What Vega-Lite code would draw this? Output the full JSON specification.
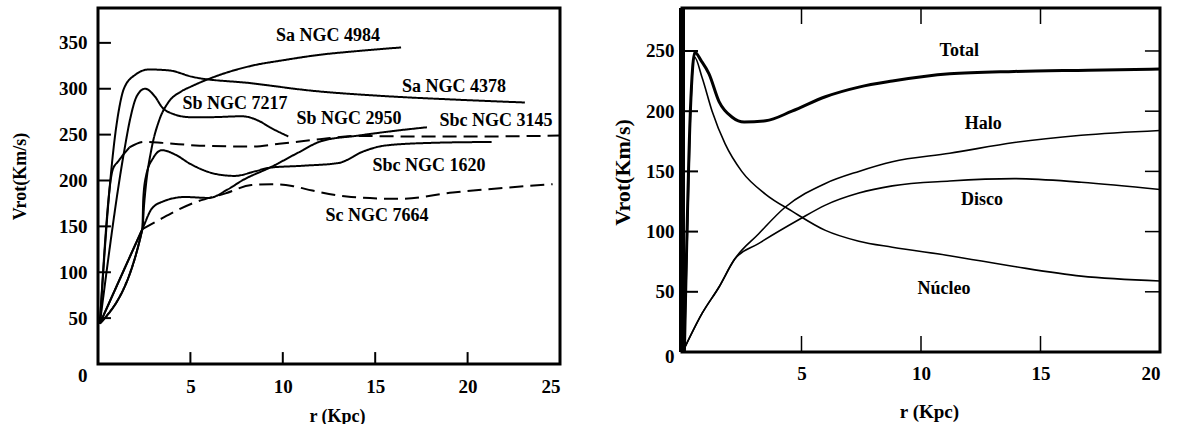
{
  "$schema": "https://vega.github.io/schema/vega-lite/v6.json",
  "background": "white",
  "padding": {"left": 9, "top": 3, "right": 0, "bottom": 0},
  "spacing": 122,
  "bounds": "flush",
  "config": {
    "view": {"stroke": "black", "strokeWidth": 3},
    "font": "Liberation Serif",
    "axis": {
      "labelFont": "Liberation Serif", "labelFontWeight": "bold", "labelFontSize": 19, "labelColor": "black",
      "titleFont": "Liberation Serif", "titleFontWeight": "bold", "titleFontSize": 18, "titleColor": "black",
      "grid": false, "domain": false, "ticks": false, "tickSize": 0
    }
  },
  "datasets": {
    "galaxias": [
      {"g": "Sa NGC 4378", "seg": 1, "r": 0.1, "v": 44},
      {"g": "Sa NGC 4378", "seg": 1, "r": 0.6, "v": 185},
      {"g": "Sa NGC 4378", "seg": 1, "r": 0.87, "v": 240},
      {"g": "Sa NGC 4378", "seg": 1, "r": 1.14, "v": 278},
      {"g": "Sa NGC 4378", "seg": 1, "r": 1.4, "v": 300},
      {"g": "Sa NGC 4378", "seg": 1, "r": 2.0, "v": 315},
      {"g": "Sa NGC 4378", "seg": 1, "r": 2.76, "v": 321},
      {"g": "Sa NGC 4378", "seg": 1, "r": 3.84, "v": 320},
      {"g": "Sa NGC 4378", "seg": 1, "r": 5.1, "v": 313},
      {"g": "Sa NGC 4378", "seg": 1, "r": 8.3, "v": 306},
      {"g": "Sa NGC 4378", "seg": 1, "r": 11.5, "v": 298},
      {"g": "Sa NGC 4378", "seg": 1, "r": 15.5, "v": 292},
      {"g": "Sa NGC 4378", "seg": 1, "r": 19.5, "v": 288},
      {"g": "Sa NGC 4378", "seg": 1, "r": 23.1, "v": 285},

      {"g": "Sa NGC 4984", "seg": 1, "r": 0.1, "v": 44},
      {"g": "Sa NGC 4984", "seg": 1, "r": 2.4, "v": 147},
      {"g": "Sa NGC 4984", "seg": 1, "r": 2.5, "v": 175},
      {"g": "Sa NGC 4984", "seg": 1, "r": 2.6, "v": 196},
      {"g": "Sa NGC 4984", "seg": 1, "r": 2.9, "v": 235},
      {"g": "Sa NGC 4984", "seg": 1, "r": 3.3, "v": 265},
      {"g": "Sa NGC 4984", "seg": 1, "r": 3.8, "v": 285},
      {"g": "Sa NGC 4984", "seg": 1, "r": 4.5, "v": 297},
      {"g": "Sa NGC 4984", "seg": 1, "r": 5.1, "v": 303},
      {"g": "Sa NGC 4984", "seg": 1, "r": 6.3, "v": 313},
      {"g": "Sa NGC 4984", "seg": 1, "r": 8.3, "v": 325},
      {"g": "Sa NGC 4984", "seg": 1, "r": 10, "v": 331},
      {"g": "Sa NGC 4984", "seg": 1, "r": 12, "v": 337},
      {"g": "Sa NGC 4984", "seg": 1, "r": 14, "v": 341},
      {"g": "Sa NGC 4984", "seg": 1, "r": 16.4, "v": 345},

      {"g": "Sb NGC 7217", "seg": 1, "r": 0.1, "v": 44},
      {"g": "Sb NGC 7217", "seg": 1, "r": 1.4, "v": 230},
      {"g": "Sb NGC 7217", "seg": 1, "r": 1.75, "v": 268},
      {"g": "Sb NGC 7217", "seg": 1, "r": 2.1, "v": 292},
      {"g": "Sb NGC 7217", "seg": 1, "r": 2.54, "v": 300},
      {"g": "Sb NGC 7217", "seg": 1, "r": 3.1, "v": 291},
      {"g": "Sb NGC 7217", "seg": 1, "r": 3.46, "v": 280},
      {"g": "Sb NGC 7217", "seg": 1, "r": 4.0, "v": 273},
      {"g": "Sb NGC 7217", "seg": 1, "r": 5.0, "v": 269},
      {"g": "Sb NGC 7217", "seg": 1, "r": 6.0, "v": 269},
      {"g": "Sb NGC 7217", "seg": 1, "r": 7.8, "v": 270},
      {"g": "Sb NGC 7217", "seg": 1, "r": 8.7, "v": 265},
      {"g": "Sb NGC 7217", "seg": 1, "r": 9.3, "v": 258},
      {"g": "Sb NGC 7217", "seg": 1, "r": 10.3, "v": 248},

      {"g": "Sb NGC 2950", "seg": 1, "r": 0.1, "v": 44},
      {"g": "Sb NGC 2950", "seg": 1, "r": 2.4, "v": 147},
      {"g": "Sb NGC 2950", "seg": 1, "r": 2.9, "v": 169},
      {"g": "Sb NGC 2950", "seg": 1, "r": 3.5, "v": 177},
      {"g": "Sb NGC 2950", "seg": 1, "r": 4.7, "v": 182},
      {"g": "Sb NGC 2950", "seg": 1, "r": 6.0, "v": 181},
      {"g": "Sb NGC 2950", "seg": 1, "r": 7.0, "v": 190},
      {"g": "Sb NGC 2950", "seg": 1, "r": 7.8, "v": 200},
      {"g": "Sb NGC 2950", "seg": 1, "r": 9.4, "v": 215},
      {"g": "Sb NGC 2950", "seg": 1, "r": 10.8, "v": 230},
      {"g": "Sb NGC 2950", "seg": 1, "r": 12.1, "v": 243},
      {"g": "Sb NGC 2950", "seg": 1, "r": 14.1, "v": 249},
      {"g": "Sb NGC 2950", "seg": 1, "r": 16, "v": 254},
      {"g": "Sb NGC 2950", "seg": 1, "r": 17.8, "v": 258},

      {"g": "Sbc NGC 1620", "seg": 1, "r": 0.1, "v": 44},
      {"g": "Sbc NGC 1620", "seg": 1, "r": 2.4, "v": 147},
      {"g": "Sbc NGC 1620", "seg": 1, "r": 2.45, "v": 180},
      {"g": "Sbc NGC 1620", "seg": 1, "r": 2.6, "v": 205},
      {"g": "Sbc NGC 1620", "seg": 1, "r": 3.0, "v": 225},
      {"g": "Sbc NGC 1620", "seg": 1, "r": 3.46, "v": 233},
      {"g": "Sbc NGC 1620", "seg": 1, "r": 4.2, "v": 228},
      {"g": "Sbc NGC 1620", "seg": 1, "r": 5.0, "v": 218},
      {"g": "Sbc NGC 1620", "seg": 1, "r": 6.4, "v": 207},
      {"g": "Sbc NGC 1620", "seg": 1, "r": 7.4, "v": 205},
      {"g": "Sbc NGC 1620", "seg": 1, "r": 8.5, "v": 210},
      {"g": "Sbc NGC 1620", "seg": 1, "r": 9.3, "v": 214},
      {"g": "Sbc NGC 1620", "seg": 1, "r": 11, "v": 216},
      {"g": "Sbc NGC 1620", "seg": 1, "r": 13, "v": 219},
      {"g": "Sbc NGC 1620", "seg": 1, "r": 14.4, "v": 232},
      {"g": "Sbc NGC 1620", "seg": 1, "r": 15.5, "v": 238},
      {"g": "Sbc NGC 1620", "seg": 1, "r": 18, "v": 241},
      {"g": "Sbc NGC 1620", "seg": 1, "r": 21.3, "v": 242},

      {"g": "Sbc NGC 3145", "seg": 1, "r": 0.1, "v": 44},
      {"g": "Sbc NGC 3145", "seg": 1, "r": 0.8, "v": 212},
      {"g": "Sbc NGC 3145", "seg": 1, "r": 1.1, "v": 221},
      {"g": "Sbc NGC 3145", "seg": 1, "r": 1.7, "v": 236},
      {"g": "Sbc NGC 3145", "seg": 2, "r": 1.7, "v": 236},
      {"g": "Sbc NGC 3145", "seg": 2, "r": 2.5, "v": 242},
      {"g": "Sbc NGC 3145", "seg": 2, "r": 3.5, "v": 241},
      {"g": "Sbc NGC 3145", "seg": 2, "r": 5.5, "v": 238},
      {"g": "Sbc NGC 3145", "seg": 2, "r": 8.3, "v": 237},
      {"g": "Sbc NGC 3145", "seg": 2, "r": 9.8, "v": 240},
      {"g": "Sbc NGC 3145", "seg": 2, "r": 12, "v": 245},
      {"g": "Sbc NGC 3145", "seg": 2, "r": 14, "v": 248.5},
      {"g": "Sbc NGC 3145", "seg": 2, "r": 17, "v": 248},
      {"g": "Sbc NGC 3145", "seg": 2, "r": 21, "v": 248},
      {"g": "Sbc NGC 3145", "seg": 2, "r": 25, "v": 249},

      {"g": "Sc NGC 7664", "seg": 1, "r": 0.1, "v": 44},
      {"g": "Sc NGC 7664", "seg": 1, "r": 2.4, "v": 147},
      {"g": "Sc NGC 7664", "seg": 2, "r": 2.4, "v": 147},
      {"g": "Sc NGC 7664", "seg": 2, "r": 3.3, "v": 157},
      {"g": "Sc NGC 7664", "seg": 2, "r": 5.1, "v": 175},
      {"g": "Sc NGC 7664", "seg": 2, "r": 6.9, "v": 186},
      {"g": "Sc NGC 7664", "seg": 2, "r": 8.3, "v": 195},
      {"g": "Sc NGC 7664", "seg": 2, "r": 9.4, "v": 196},
      {"g": "Sc NGC 7664", "seg": 2, "r": 10.5, "v": 194},
      {"g": "Sc NGC 7664", "seg": 2, "r": 11.6, "v": 189},
      {"g": "Sc NGC 7664", "seg": 2, "r": 13.7, "v": 182},
      {"g": "Sc NGC 7664", "seg": 2, "r": 16.4, "v": 180},
      {"g": "Sc NGC 7664", "seg": 2, "r": 19.2, "v": 187},
      {"g": "Sc NGC 7664", "seg": 2, "r": 22, "v": 192},
      {"g": "Sc NGC 7664", "seg": 2, "r": 24.6, "v": 196}
    ],
    "etiquetas": [
      {"label": "Sa NGC 4984", "r": 12.45, "v": 358},
      {"label": "Sa NGC 4378", "r": 19.26, "v": 302},
      {"label": "Sb NGC 7217", "r": 7.41, "v": 283.5},
      {"label": "Sb NGC 2950", "r": 13.58, "v": 267},
      {"label": "Sbc NGC 3145", "r": 21.54, "v": 265},
      {"label": "Sbc NGC 1620", "r": 17.91, "v": 216},
      {"label": "Sc NGC 7664", "r": 15.1, "v": 161}
    ],
    "componentes": [
      {"c": "Total", "r": 0.1, "v": 0},
      {"c": "Total", "r": 0.35, "v": 200},
      {"c": "Total", "r": 0.54, "v": 249},
      {"c": "Total", "r": 0.8, "v": 242},
      {"c": "Total", "r": 1.13, "v": 231},
      {"c": "Total", "r": 1.55, "v": 208},
      {"c": "Total", "r": 2.1, "v": 195},
      {"c": "Total", "r": 2.6, "v": 191},
      {"c": "Total", "r": 3.5, "v": 192},
      {"c": "Total", "r": 4.6, "v": 200},
      {"c": "Total", "r": 6.0, "v": 212},
      {"c": "Total", "r": 7.4, "v": 220},
      {"c": "Total", "r": 8.8, "v": 225},
      {"c": "Total", "r": 11.2, "v": 231},
      {"c": "Total", "r": 13.9, "v": 233},
      {"c": "Total", "r": 17, "v": 234},
      {"c": "Total", "r": 20, "v": 235},

      {"c": "Núcleo", "r": 0.1, "v": 0},
      {"c": "Núcleo", "r": 0.35, "v": 195},
      {"c": "Núcleo", "r": 0.52, "v": 245},
      {"c": "Núcleo", "r": 0.84, "v": 228},
      {"c": "Núcleo", "r": 1.26, "v": 200},
      {"c": "Núcleo", "r": 1.8, "v": 173},
      {"c": "Núcleo", "r": 2.5, "v": 150},
      {"c": "Núcleo", "r": 3.5, "v": 131},
      {"c": "Núcleo", "r": 4.6, "v": 117},
      {"c": "Núcleo", "r": 6.0, "v": 101},
      {"c": "Núcleo", "r": 7.4, "v": 92},
      {"c": "Núcleo", "r": 8.8, "v": 87},
      {"c": "Núcleo", "r": 11.2, "v": 80},
      {"c": "Núcleo", "r": 13.9, "v": 71},
      {"c": "Núcleo", "r": 16.7, "v": 63},
      {"c": "Núcleo", "r": 20, "v": 59},

      {"c": "Halo", "r": 0.1, "v": 3},
      {"c": "Halo", "r": 0.84, "v": 32},
      {"c": "Halo", "r": 1.55, "v": 54},
      {"c": "Halo", "r": 2.2, "v": 77},
      {"c": "Halo", "r": 3.2, "v": 98},
      {"c": "Halo", "r": 4.3, "v": 120},
      {"c": "Halo", "r": 6.0, "v": 140},
      {"c": "Halo", "r": 7.4, "v": 150},
      {"c": "Halo", "r": 8.8, "v": 158},
      {"c": "Halo", "r": 11.2, "v": 165},
      {"c": "Halo", "r": 13.9, "v": 174},
      {"c": "Halo", "r": 16.7, "v": 180},
      {"c": "Halo", "r": 20, "v": 184},

      {"c": "Disco", "r": 0.1, "v": 3},
      {"c": "Disco", "r": 0.84, "v": 32},
      {"c": "Disco", "r": 1.55, "v": 54},
      {"c": "Disco", "r": 2.2, "v": 77},
      {"c": "Disco", "r": 3.2, "v": 90},
      {"c": "Disco", "r": 4.9, "v": 110},
      {"c": "Disco", "r": 6.0, "v": 122},
      {"c": "Disco", "r": 7.4, "v": 132},
      {"c": "Disco", "r": 8.8, "v": 138},
      {"c": "Disco", "r": 11.2, "v": 142},
      {"c": "Disco", "r": 13.9, "v": 144},
      {"c": "Disco", "r": 16.7, "v": 141},
      {"c": "Disco", "r": 20, "v": 135}
    ],
    "nombres": [
      {"label": "Total", "r": 11.6, "v": 250},
      {"label": "Halo", "r": 12.6, "v": 189},
      {"label": "Disco", "r": 12.55, "v": 126},
      {"label": "Núcleo", "r": 10.96, "v": 52}
    ]
  },
  "hconcat": [
    {
      "width": 462,
      "height": 356,
      "resolve": {"axis": {"x": "independent", "y": "independent"}},
      "layer": [
        {
          "data": {"name": "galaxias"},
          "mark": {"type": "line", "color": "black", "strokeWidth": 2, "interpolate": "monotone"},
          "encoding": {
            "x": {
              "field": "r", "type": "quantitative",
              "scale": {"domain": [0, 25], "nice": false, "zero": false},
              "axis": {"orient": "bottom", "values": [5, 10, 15, 20, 25], "labelPadding": 13, "title": "r (Kpc)", "titleX": 239, "titleY": 52, "titleBaseline": "middle", "titleAlign": "center"}
            },
            "y": {
              "field": "v", "type": "quantitative",
              "scale": {"domain": [0, 388], "nice": false},
              "axis": {"orient": "left", "values": [0, 50, 100, 150, 200, 250, 300, 350], "labelPadding": 11, "labelOffset": {"condition": {"test": "datum.value === 0", "value": 11}, "value": 0}, "title": "Vrot(Km/s)", "titleX": -78, "titleY": 168, "titleAngle": 270, "titleBaseline": "middle", "titleAlign": "center"}
            },
            "detail": [{"field": "g"}, {"field": "seg"}],
            "strokeDash": {"condition": {"test": "datum.seg === 2", "value": [14, 7]}, "value": [1, 0]}
          }
        },
        {
          "data": {"name": "etiquetas"},
          "mark": {"type": "text", "font": "Liberation Serif", "fontWeight": "bold", "fontSize": 18, "color": "black", "align": "center", "baseline": "middle"},
          "encoding": {
            "x": {"field": "r", "type": "quantitative", "axis": null},
            "y": {"field": "v", "type": "quantitative", "axis": null},
            "text": {"field": "label"}
          }
        },
        {
          "data": {"values": [{"r": 0, "v": 50}, {"r": 0, "v": 100}, {"r": 0, "v": 150}, {"r": 0, "v": 200}, {"r": 0, "v": 250}, {"r": 0, "v": 300}, {"r": 0, "v": 350}]},
          "mark": {"type": "rule", "color": "black", "strokeWidth": 2},
          "encoding": {
            "x": {"field": "r", "type": "quantitative", "axis": null},
            "x2": {"datum": 0.7},
            "y": {"field": "v", "type": "quantitative", "axis": null}
          }
        },
        {
          "data": {"values": [{"r": 5, "v": 0}, {"r": 10, "v": 0}, {"r": 15, "v": 0}, {"r": 20, "v": 0}]},
          "mark": {"type": "rule", "color": "black", "strokeWidth": 2},
          "encoding": {
            "x": {"field": "r", "type": "quantitative", "axis": null},
            "y": {"field": "v", "type": "quantitative", "axis": null},
            "y2": {"datum": 13}
          }
        }
      ]
    },
    {
      "width": 478,
      "height": 344,
      "resolve": {"axis": {"x": "independent", "y": "independent"}},
      "layer": [
        {
          "data": {"name": "componentes"},
          "mark": {"type": "line", "color": "black", "interpolate": "monotone"},
          "encoding": {
            "x": {
              "field": "r", "type": "quantitative",
              "scale": {"domain": [0, 20], "nice": false, "zero": false},
              "axis": {"orient": "bottom", "values": [5, 10, 15, 20], "labelPadding": 12, "title": "r (Kpc)", "titleFontSize": 19, "titleX": 247, "titleY": 59, "titleBaseline": "middle", "titleAlign": "center"}
            },
            "y": {
              "field": "v", "type": "quantitative",
              "scale": {"domain": [0, 285.7], "nice": false},
              "axis": {"orient": "left", "values": [0, 50, 100, 150, 200, 250], "labelPadding": 8, "labelOffset": {"condition": {"test": "datum.value === 0", "value": 4}, "value": 0}, "title": "Vrot(Km/s)", "titleFontSize": 22, "titleX": -60, "titleY": 164, "titleAngle": 270, "titleBaseline": "middle", "titleAlign": "center"}
            },
            "detail": {"field": "c"},
            "strokeWidth": {"condition": {"test": "datum.c === 'Total'", "value": 3}, "value": 1.6}
          }
        },
        {
          "data": {"name": "nombres"},
          "mark": {"type": "text", "font": "Liberation Serif", "fontWeight": "bold", "fontSize": 18, "color": "black", "align": "center", "baseline": "middle"},
          "encoding": {
            "x": {"field": "r", "type": "quantitative", "axis": null},
            "y": {"field": "v", "type": "quantitative", "axis": null},
            "text": {"field": "label"}
          }
        },
        {
          "data": {"values": [{"r": 0}]},
          "mark": {"type": "rule", "color": "black", "strokeWidth": 6},
          "encoding": {"x": {"field": "r", "type": "quantitative", "axis": null}}
        },
        {
          "data": {"values": [{"r": 0, "v": 50}, {"r": 0, "v": 100}, {"r": 0, "v": 150}, {"r": 0, "v": 200}, {"r": 0, "v": 250}]},
          "mark": {"type": "rule", "color": "black", "strokeWidth": 2},
          "encoding": {
            "x": {"field": "r", "type": "quantitative", "axis": null},
            "x2": {"datum": 0.67},
            "y": {"field": "v", "type": "quantitative", "axis": null}
          }
        },
        {
          "data": {"values": [{"r": 20, "v": 50}, {"r": 20, "v": 100}, {"r": 20, "v": 150}, {"r": 20, "v": 200}, {"r": 20, "v": 250}]},
          "mark": {"type": "rule", "color": "black", "strokeWidth": 1.5},
          "encoding": {
            "x": {"field": "r", "type": "quantitative", "axis": null},
            "x2": {"datum": 19.37},
            "y": {"field": "v", "type": "quantitative", "axis": null}
          }
        },
        {
          "data": {"values": [{"r": 5, "v": 0}, {"r": 10, "v": 0}, {"r": 15, "v": 0}]},
          "mark": {"type": "rule", "color": "black", "strokeWidth": 1.5},
          "encoding": {
            "x": {"field": "r", "type": "quantitative", "axis": null},
            "y": {"field": "v", "type": "quantitative", "axis": null},
            "y2": {"datum": 13.3}
          }
        },
        {
          "data": {"values": [{"r": 5, "v": 285.7}, {"r": 10, "v": 285.7}, {"r": 15, "v": 285.7}]},
          "mark": {"type": "rule", "color": "black", "strokeWidth": 1.5},
          "encoding": {
            "x": {"field": "r", "type": "quantitative", "axis": null},
            "y": {"field": "v", "type": "quantitative", "axis": null},
            "y2": {"datum": 272.4}
          }
        }
      ]
    }
  ]
}
